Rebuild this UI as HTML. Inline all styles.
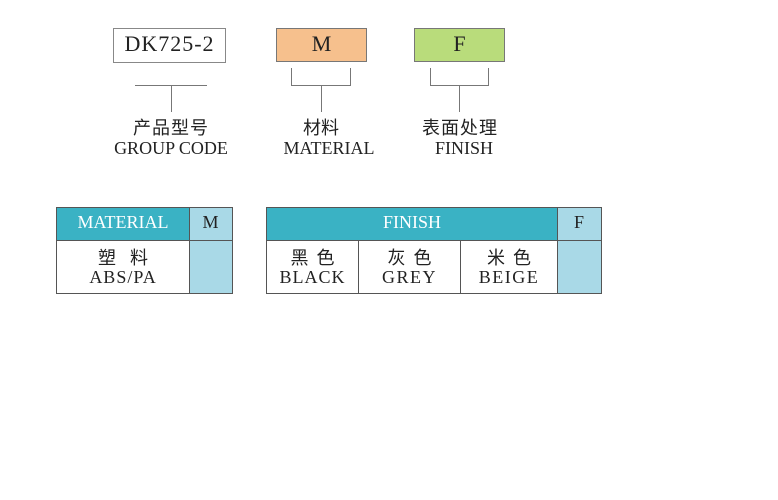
<!DOCTYPE html>
<html><head><meta charset="utf-8"><style>
body{margin:0;width:778px;height:500px;background:#fff;position:relative;font-family:"Liberation Serif","Noto Serif CJK SC",serif;color:#222;overflow:hidden}
.a{position:absolute;box-sizing:border-box}
.t{position:absolute;text-align:center;white-space:nowrap}
.l{position:absolute;background:#777}
</style></head><body>
<div class="a" style="left:113px;top:28px;width:113px;height:35px;border:1px solid #888;"></div>
<div class="t" style="left:113px;top:31px;width:113px;font-size:22px;letter-spacing:1px">DK725-2</div>
<div class="a" style="left:276px;top:28px;width:91px;height:34px;border:1px solid #777;background:#f6c08d"></div>
<div class="t" style="left:276px;top:31px;width:91px;font-size:22px">M</div>
<div class="a" style="left:414px;top:28px;width:91px;height:34px;border:1px solid #777;background:#b9dc7b"></div>
<div class="t" style="left:414px;top:31px;width:91px;font-size:22px">F</div>

<div class="l" style="left:135px;top:85px;width:72px;height:1px"></div>
<div class="l" style="left:171px;top:85px;width:1px;height:27px"></div>

<div class="l" style="left:291px;top:68px;width:1px;height:17px"></div>
<div class="l" style="left:350px;top:68px;width:1px;height:17px"></div>
<div class="l" style="left:291px;top:85px;width:60px;height:1px"></div>
<div class="l" style="left:321px;top:85px;width:1px;height:27px"></div>

<div class="l" style="left:430px;top:68px;width:1px;height:17px"></div>
<div class="l" style="left:488px;top:68px;width:1px;height:17px"></div>
<div class="l" style="left:430px;top:85px;width:59px;height:1px"></div>
<div class="l" style="left:459px;top:85px;width:1px;height:27px"></div>

<div class="t" style="left:111px;top:114px;width:120px;font-size:18px;font-family:'Noto Sans CJK SC',sans-serif;letter-spacing:1px">产品型号</div>
<div class="t" style="left:101px;top:138px;width:160px;font-size:18px;left:101px;width:140px">GROUP CODE</div>
<div class="t" style="left:261px;top:114px;width:120px;font-size:18px;font-family:'Noto Sans CJK SC',sans-serif">材料</div>
<div class="t" style="left:269px;top:138px;width:120px;font-size:18px">MATERIAL</div>
<div class="t" style="left:400px;top:114px;width:120px;font-size:18px;font-family:'Noto Sans CJK SC',sans-serif;letter-spacing:1px">表面处理</div>
<div class="t" style="left:404px;top:138px;width:120px;font-size:18px">FINISH</div>

<!-- table 1 -->
<div class="a" style="left:56px;top:207px;width:177px;height:87px;border:1px solid #555"></div>
<div class="a" style="left:57px;top:208px;width:132px;height:32px;background:#3ab2c4"></div>
<div class="a" style="left:189px;top:208px;width:43px;height:85px;background:#a9d9e7;border-left:1px solid #555"></div>
<div class="l" style="left:57px;top:240px;width:175px;height:1px;background:#555"></div>
<div class="t" style="left:57px;top:212px;width:132px;font-size:18px;color:#fff">MATERIAL</div>
<div class="t" style="left:189px;top:212px;width:43px;font-size:18px">M</div>
<div class="t" style="left:57px;top:244px;width:132px;font-size:18px;font-family:'Noto Sans CJK SC',sans-serif;letter-spacing:14px;text-indent:14px">塑料</div>
<div class="t" style="left:57px;top:267px;width:132px;font-size:18px;letter-spacing:1px">ABS/PA</div>

<!-- table 2 -->
<div class="a" style="left:266px;top:207px;width:336px;height:87px;border:1px solid #555"></div>
<div class="a" style="left:267px;top:208px;width:290px;height:32px;background:#3ab2c4"></div>
<div class="a" style="left:557px;top:208px;width:44px;height:85px;background:#a9d9e7;border-left:1px solid #555"></div>
<div class="l" style="left:267px;top:240px;width:334px;height:1px;background:#555"></div>
<div class="l" style="left:358px;top:240px;width:1px;height:53px;background:#555"></div>
<div class="l" style="left:460px;top:240px;width:1px;height:53px;background:#555"></div>
<div class="t" style="left:267px;top:212px;width:290px;font-size:18px;color:#fff">FINISH</div>
<div class="t" style="left:557px;top:212px;width:44px;font-size:18px">F</div>
<div class="t" style="left:267px;top:244px;width:91px;font-size:18px;font-family:'Noto Sans CJK SC',sans-serif;letter-spacing:8px;text-indent:8px">黑色</div>
<div class="t" style="left:267px;top:267px;width:91px;font-size:18px;letter-spacing:1px">BLACK</div>
<div class="t" style="left:359px;top:244px;width:101px;font-size:18px;font-family:'Noto Sans CJK SC',sans-serif;letter-spacing:8px;text-indent:8px">灰色</div>
<div class="t" style="left:359px;top:267px;width:101px;font-size:18px;letter-spacing:1.5px">GREY</div>
<div class="t" style="left:461px;top:244px;width:96px;font-size:18px;font-family:'Noto Sans CJK SC',sans-serif;letter-spacing:8px;text-indent:8px">米色</div>
<div class="t" style="left:461px;top:267px;width:96px;font-size:18px;letter-spacing:1.5px">BEIGE</div>
</body></html>
